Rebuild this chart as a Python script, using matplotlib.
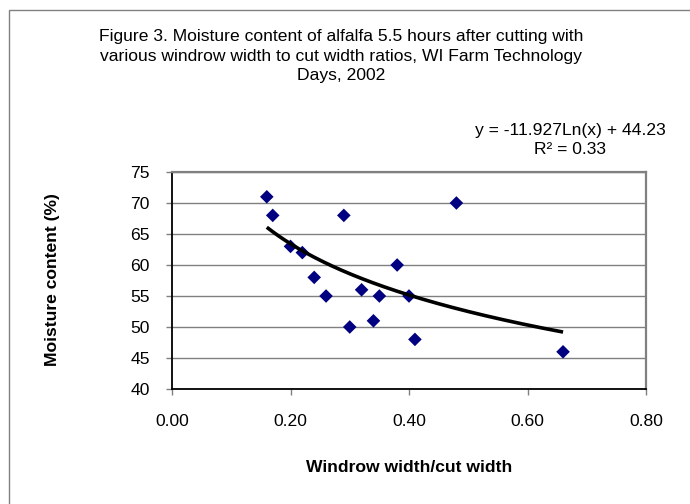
"""
Scatter chart with a logarithmic trendline: moisture content of alfalfa
vs. windrow width / cut width ratio (WI Farm Technology Days, 2002).
"""

import matplotlib
matplotlib.use("Agg")  # headless backend
import matplotlib.pyplot as plt
import numpy as np
from matplotlib.patches import Rectangle
from matplotlib.ticker import FormatStrFormatter

# Data
ratio = [0.16, 0.17, 0.20, 0.22, 0.24, 0.26, 0.29, 0.30,
         0.32, 0.34, 0.35, 0.38, 0.40, 0.41, 0.48, 0.66]
moisture = [71, 68, 63, 62, 58, 55, 68, 50,
            56, 51, 55, 60, 55, 48, 70, 46]

# Trendline coefficients as printed on the chart: y = a*ln(x) + b
trend_a = -11.927
trend_b = 44.23
r_squared = 0.33

x_ticks = [0.0, 0.2, 0.4, 0.6, 0.8]
y_ticks = [40, 45, 50, 55, 60, 65, 70, 75]

title = ("Figure 3. Moisture content of alfalfa 5.5 hours after cutting with\n"
         "various windrow width to cut width ratios, WI Farm Technology\n"
         "Days, 2002")

W, H = 690, 504
FONT = "Liberation Sans"
FS = 12.6
GRAY = "#808080"
LSP = 1.36

plt.rcParams["font.family"] = [FONT, "DejaVu Sans"]


def px_x(px):
    return px / W


def px_y(px):
    """Pixel row measured from the top -> figure fraction."""
    return 1 - px / H


fig = plt.figure(figsize=(W / 100, H / 100), dpi=100)
ax = fig.add_axes([px_x(172), px_y(389), px_x(646 - 172), (389 - 172) / H])

# Outer chart-area border (left and top edges visible)
fig.patches.append(Rectangle((px_x(8.5), -0.2), 2, px_y(10.5) + 0.2,
                             transform=fig.transFigure, fill=False,
                             edgecolor=GRAY, linewidth=1.0, clip_on=False))

ax.scatter(ratio, moisture, marker="D", s=48, color="#000080",
           edgecolors="none", zorder=3, clip_on=False)

xs = np.linspace(min(ratio), max(ratio), 200)
ax.plot(xs, trend_a * np.log(xs) + trend_b, color="black",
        linewidth=2.6, solid_capstyle="butt", zorder=4)

ax.set_xlim(0, 0.8)
ax.set_ylim(40, 75)
ax.set_xticks(x_ticks)
ax.set_yticks(y_ticks)
ax.xaxis.set_major_formatter(FormatStrFormatter("%.2f"))

ax.yaxis.grid(True, color=GRAY, linewidth=1.0)
ax.set_axisbelow(True)

for side in ("top", "right"):
    ax.spines[side].set_color(GRAY)
    ax.spines[side].set_linewidth(1.6)
for side in ("left", "bottom"):
    ax.spines[side].set_color("black")
    ax.spines[side].set_linewidth(1.3)

ax.tick_params(axis="x", direction="out", length=4, width=1.0,
               color=GRAY, pad=14, labelsize=FS)
ax.tick_params(axis="y", direction="out", length=4, width=1.0,
               color=GRAY, pad=12, labelsize=FS)

# multi-line text: baseline alignment is on the last line
fig.text(px_x(341), px_y(80), title, ha="center", va="baseline",
         fontsize=FS, linespacing=LSP)

fig.text(px_x(570), px_y(154), "y = -11.927Ln(x) + 44.23\nR\u00b2 = %.2f" % r_squared,
         ha="center", va="baseline", fontsize=FS, linespacing=LSP)

fig.text(px_x(53), px_y(280), "Moisture content (%)", rotation=90,
         ha="center", va="center", fontsize=FS, fontweight="bold")
fig.text(px_x(409), px_y(467), "Windrow width/cut width",
         ha="center", va="center", fontsize=FS, fontweight="bold")

fig.savefig("out.png", dpi=100)
